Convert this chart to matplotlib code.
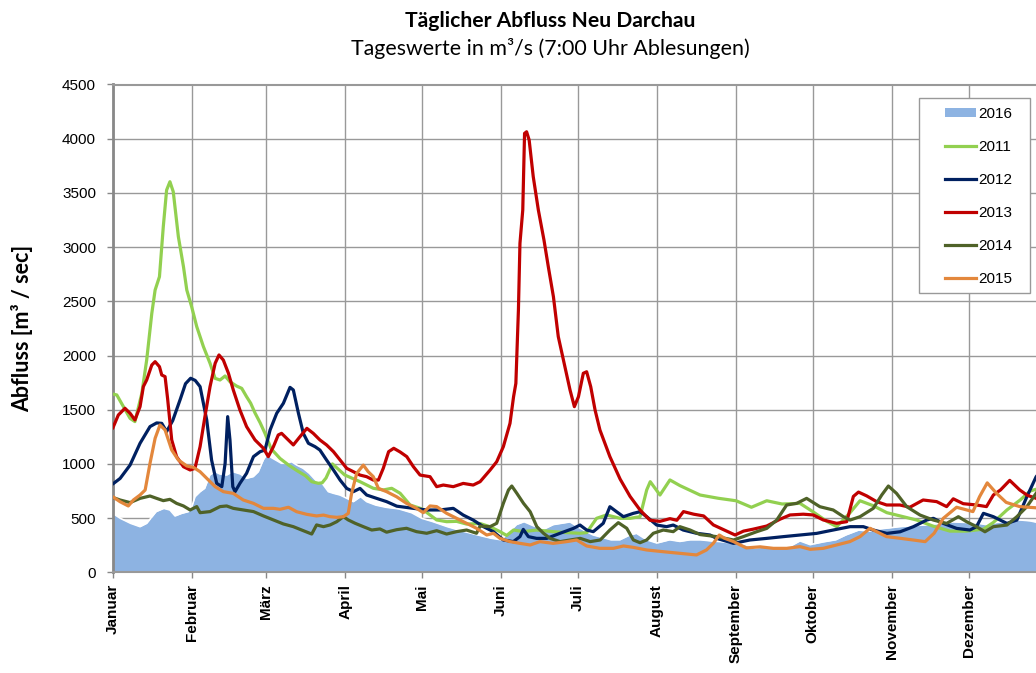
import matplotlib
matplotlib.use("Agg")
import matplotlib.pyplot as plt
from matplotlib.patches import Patch, Rectangle
from matplotlib.lines import Line2D

plt.rcParams['font.family'] = ['Liberation Sans', 'DejaVu Sans']

# ---------------- data (day of year, 0 = 1 Jan; values in m3/s) ----------------
month_labels = ["Januar", "Februar", "März", "April", "Mai", "Juni", "Juli",
                "August", "September", "Oktober", "November", "Dezember"]
month_starts = [0, 31, 60, 91, 121, 152, 182, 213, 244, 274, 305, 335]

days_2016 = [0, 3, 7, 10.7, 13.3, 17, 20, 22.4, 24.4, 27, 29.6, 31, 32.2, 34.2, 36, 38, 40, 42,
             44.6, 47, 50, 52.4, 55, 57, 59, 60.5, 62, 63.5, 66, 68, 70, 72, 74.6, 77, 80, 82,
             84.4, 86.4, 89, 91.6, 94.2, 97, 99.4, 103, 107, 112, 117, 121, 125, 131, 137, 143,
             148, 152, 155.5, 158, 161, 164.6, 168.5, 172.4, 176.4, 179, 182, 185.5, 188, 192,
             195, 198.5, 202, 205, 209, 213, 218, 222, 226, 230, 234, 238, 243, 247, 251, 256,
             259, 264, 269, 273, 278, 283, 287, 292, 296, 300, 304, 308, 313, 318, 324, 329, 334,
             338, 342, 346, 350, 355, 359, 362]
q_2016 = [544, 498, 452, 421, 452, 560, 590, 575, 520, 544, 560, 606, 698, 744, 775, 898, 929, 907,
          898, 929, 907, 867, 883, 929, 1040, 1090, 1060, 1040, 1006, 1006, 1021, 990, 959, 913, 836, 821,
          744, 729, 713, 683, 652, 698, 652, 620, 600, 585, 550, 498, 470, 421, 380, 344,
          315, 300, 380, 440, 467, 430, 395, 440, 455, 465, 420, 375, 345, 320,
          300, 300, 340, 360, 300, 270, 300, 285, 300, 300, 290, 283, 268, 260, 225, 237,
          237, 225, 290, 255, 280, 300, 345, 390, 380, 400, 410, 421, 430, 437, 452, 465, 460,
          455, 440, 460, 470, 483, 475, 460]

days_2011 = [0, 1.6, 4.2, 6.8, 8.7, 11.4, 13.3, 15.3, 16.6, 18.3, 19.8, 21.1, 22.4, 23.7, 25.7,
             27.7, 29, 30.9, 32.9, 35.5, 38.1, 40.1, 42, 44, 45.9, 48.5, 50.5, 52.4, 54, 55.7,
             57.7, 59.6, 62, 65.5, 68.8, 72, 75.5, 77.9, 80.5, 82, 83.5, 86, 90.8, 96.8, 102, 106,
             109.2, 112.5, 116.4, 121, 124.2, 126.8, 130.7, 134.6, 138.5, 143.8, 147.7, 151.6,
             154.2, 156.9, 160.7, 165.9, 172.4, 177.7, 182.9, 185.5, 189.4, 193.3, 198.6, 202.5,
             206.4, 209, 210.4, 214.2, 218.1, 222, 229.9, 237, 244, 250, 256, 262, 269, 274,
             279.5, 283.4, 288.6, 292.5, 297.7, 303, 308.2, 314.7, 321.2, 327.7, 334.2, 340.8,
             344.7, 350, 355.2, 359.1, 362]
q_2011 = [1645, 1636, 1528, 1420, 1390, 1651, 1958, 2388, 2604, 2727, 3188, 3526, 3603, 3511, 3096,
          2819, 2604, 2450, 2266, 2082, 1928, 1789, 1774, 1811, 1758, 1718, 1697, 1620, 1560, 1470,
          1380, 1282, 1140, 1050, 990, 940, 890, 836, 821, 826, 870, 1000, 898, 836, 775, 760,
          775, 729, 621, 585, 529, 483, 467, 470, 445, 450, 420, 375,
          340, 390, 375, 390, 375, 366, 360, 366, 498, 529, 498, 498,
          513, 759, 836, 713, 852, 800, 713, 683, 660, 600, 660, 630, 636, 560,
          470, 421, 550, 660, 614, 550, 520, 482, 425, 380, 380, 398,
          460, 575, 667, 750, 770]

days_2012 = [0, 2.9, 6.8, 10.7, 14.6, 17.2, 19.2, 21.1, 23.5, 26.5, 28.5, 30.5, 32.3, 34.2, 36.8,
             38.7, 40.7, 42.7, 44, 45, 45.9, 47, 47.9, 49.8, 52.4, 55.1, 57.7, 59.6, 61.6, 64.2,
             66.8, 69.4, 70.7, 72.7, 74.6, 76.6, 79.2, 81.1, 83.7, 86.4, 89, 91.6, 94.2, 96.8,
             99.4, 103.3, 107.2, 111.2, 117.7, 122.9, 128.1, 133.3, 137.2, 141.1, 145.1, 149,
             152.9, 156.8, 159.4, 160.7, 162.7, 165.9, 169.9, 175.1, 180.3, 182.9, 185.5, 188.1,
             192, 194.6, 197.2, 199.9, 203.8, 206.4, 209, 212.9, 216.8, 219.4, 223.3, 228.5,
             233.8, 236.4, 243, 249.4, 256, 262.5, 269, 275.5, 282, 288.6, 293.8, 297.7, 303,
             308.2, 313.4, 318.6, 321.2, 325.1, 330.3, 335.5, 338.1, 340.8, 344.7, 350, 353.9,
             357.8, 361.4, 363]
q_2012 = [814, 866, 989, 1190, 1344, 1378, 1374, 1298, 1400, 1600, 1740, 1790, 1770, 1713, 1405,
          1036, 821, 790, 1005, 1436, 1221, 790, 744, 821, 913, 1067, 1113, 1128, 1313, 1467,
          1559, 1706, 1682, 1467, 1282, 1190, 1159, 1128, 1036, 944, 851, 774, 744, 774,
          713, 682, 652, 610, 590, 575, 575, 590, 528, 482, 421, 375,
          298, 283, 329, 396, 329, 313, 313, 360, 405, 436, 390, 375,
          452, 605, 559, 513, 544, 559, 513, 436, 421, 436, 390, 360,
          344, 313, 267, 298, 313, 329, 344, 359, 390, 421, 421, 390, 359,
          374, 421, 482, 498, 451, 405, 390, 421, 544, 513, 451, 482,
          697, 880, 930]

days_2013 = [0, 2.2, 4.8, 6.8, 8.7, 10.7, 12, 13.3, 15.3, 16.6, 18.3, 19.2, 20.5, 21.5, 23.1,
             25, 27.7, 30.3, 32.2, 34.2, 36.1, 38.1, 40.1, 41.6, 43.3, 45.3, 47.2, 49.8, 52.4,
             55.7, 59, 60.9, 62.9, 64.8, 66.1, 68.1, 70.7, 73.3, 76, 78.5, 81.1, 83.7, 86.4, 89,
             91.6, 94.2, 96.8, 99.4, 102, 104, 105.9, 108, 110, 112.5, 115.1, 117.7, 120.3,
             124.2, 126.8, 129.4, 133.3, 137.2, 141.1, 143.8, 147.7, 150.3, 152.9, 155.5, 156.9,
             157.8, 158.8, 159.4, 160.5, 161.2, 162, 163, 164.6, 166.6, 168.8, 170.5, 172.5,
             174.4, 177, 179, 180.7, 182.3, 184.2, 185.5, 187.1, 188.8, 190.7, 194.6, 198.6,
             202.5, 206.4, 210.3, 214.2, 218.1, 220.8, 223.4, 227.4, 231.3, 235.1, 240.3, 243.6,
             246.9, 250.7, 256, 261.2, 265.1, 270.3, 274.2, 278.1, 283.3, 287.3, 289.9, 291.9,
             295.1, 299, 302.9, 308.1, 312, 317.2, 322.5, 326.4, 329, 332.9, 338.1, 342, 344.7,
             347.5, 351.1, 355, 358, 361.4, 363]
q_2013 = [1328, 1451, 1513, 1467, 1405, 1528, 1713, 1774, 1912, 1943, 1897, 1820, 1805, 1600, 1221,
          1067, 974, 944, 959, 1159, 1436, 1713, 1928, 2005, 1958, 1836, 1682, 1497, 1344,
          1221, 1144, 1067, 1159, 1267, 1282, 1236, 1175, 1251, 1328, 1282, 1221, 1175, 1113, 1036,
          959, 928, 897, 882, 851, 851, 959, 1113, 1144, 1110, 1067, 974, 897,
          882, 790, 805, 790, 820, 805, 836, 943, 1020, 1159, 1374, 1620,
          1743, 2420, 3035, 3342, 4049, 4064, 3988, 3650, 3342, 3065, 2819, 2542,
          2174, 1897, 1682, 1528, 1620, 1836, 1850, 1712, 1497, 1313, 1067, 860,
          700, 575, 480, 470, 495, 480, 560, 536, 520, 437, 380, 344,
          380, 398, 427, 490, 529, 536, 529, 483, 452, 467, 700, 740,
          705, 652, 621, 621, 600, 667, 652, 606, 678, 633, 621, 606, 713,
          760, 848, 760, 710, 683, 660]

days_2014 = [0, 2.9, 6.8, 10.7, 14.6, 17.2, 19.8, 22.4, 25, 27.7, 30.3, 32.9, 34.2, 38.1, 42, 44.6,
             47.2, 51.1, 55.1, 59, 62.9, 66.8, 70.7, 74.6, 77.9, 79.8, 82.5, 85.1, 87.7, 90.3,
             92.2, 94.9, 98.1, 101.4, 104.6, 107.2, 111.1, 115, 118.9, 122.9, 126.8, 130.7, 134.6,
             138.5, 142.4, 143.8, 147.7, 150.3, 152.9, 154.9, 156.2, 158.2, 160.8, 163.4, 166,
             168.6, 171.2, 175.1, 179, 183, 186.9, 190.8, 194.6, 197.9, 201.2, 203.8, 206.4, 209,
             211.6, 215.5, 219.4, 222, 226, 229.9, 236.4, 243, 246.8, 252, 256, 259.9, 263.8,
             267.7, 271.6, 276.8, 282, 286, 288.6, 292.5, 297.7, 301, 303.6, 306.8, 310.8, 316,
             321.2, 326.4, 331, 334.2, 338.1, 341.4, 344.7, 350, 353.9, 357.8, 361.4, 363]
q_2014 = [691, 667, 643, 682, 704, 682, 661, 673, 636, 612, 575, 606, 550, 560, 606, 612,
          590, 575, 560, 520, 483, 446, 421, 384, 353, 437, 421, 437, 467, 513,
          483, 452, 421, 390, 400, 370, 393, 406, 375, 360, 384, 353, 375,
          390, 360, 427, 421, 452, 636, 759, 796, 728, 636, 559, 421,
          360, 313, 283, 298, 313, 283, 298, 390, 458, 406, 298, 273, 298,
          360, 390, 375, 421, 390, 348, 329, 298, 329, 374, 405, 482, 621,
          636, 682, 605, 575, 513, 482, 513, 590, 713, 796, 728, 605, 528,
          482, 451, 513, 467, 421, 374, 421, 436, 513, 605, 728, 780]

days_2015 = [0, 2.9, 6.1, 8.1, 10.7, 12.7, 14.6, 16.6, 18.5, 20.5, 23.1, 25.7, 29, 31.6, 34.2, 36.8,
             40.1, 43.3, 47.2, 51.1, 55.1, 59, 62.9, 65.5, 68.8, 72, 75.9, 79.8, 82.5, 85.1, 87.7,
             90.3, 92.2, 93.5, 95.5, 98.1, 100, 102, 104, 107.2, 111.1, 115, 118.9, 121.6, 124.2,
             126.8, 130.7, 134.6, 138.5, 142.4, 146.4, 149, 151.6, 155.5, 159.4, 163.4, 167.2,
             172.4, 177.7, 181.6, 185.5, 190.7, 196, 199.9, 203.8, 209, 215.5, 222, 228.5, 232.4,
             235.1, 237.4, 239.5, 243, 248, 253.4, 258.6, 263.8, 269, 273, 278.1, 283.3, 288.5,
             292.5, 296.4, 299, 302.9, 308.1, 313.3, 318, 321.5, 325.1, 330.3, 336.7, 339.3,
             342.3, 345.9, 349.7, 355, 361.4, 363]
q_2015 = [697, 651, 612, 667, 713, 759, 1005, 1236, 1359, 1313, 1128, 1036, 981, 968, 928, 867,
          790, 744, 728, 667, 636, 590, 590, 581, 600, 559, 535, 520, 528, 513, 507,
          513, 544, 728, 913, 989, 928, 882, 774, 744, 697, 636, 590, 550, 612,
          606, 544, 498, 452, 406, 344, 360, 313, 283, 267, 252, 283,
          267, 283, 298, 243, 221, 221, 243, 230, 206, 190, 175, 160, 206,
          268, 344, 314, 283, 225, 235, 221, 221, 237, 212, 221, 252, 283,
          329, 406, 375, 329, 314, 298, 283, 360, 498, 600, 560, 698,
          825, 729, 645, 606, 595, 590]

series = [
    ("2011", days_2011, q_2011, "#92D050"),
    ("2012", days_2012, q_2012, "#002060"),
    ("2013", days_2013, q_2013, "#C00000"),
    ("2014", days_2014, q_2014, "#4F6228"),
    ("2015", days_2015, q_2015, "#E3873C"),
]
color_2016 = "#8DB3E2"

# ---------------- figure ----------------
W, H = 1036, 673
fig = plt.figure(figsize=(W / 100, H / 100), dpi=100)
x0, x1 = 112.7, 1047.8
y0, y1 = 84.5, 572.3
ax = fig.add_axes([x0 / W, 1 - y1 / H, (x1 - x0) / W, (y1 - y0) / H])

ax.fill_between(days_2016, 0, q_2016, color=color_2016, linewidth=0, zorder=2)
ax.plot(days_2016, q_2016, color="white", lw=1.2, zorder=2.5)
for name, d, q, c in series:
    ax.plot(d, q, color=c, lw=2.3, solid_joinstyle="round", solid_capstyle="round", zorder=3)

ax.set_xlim(0, 366)
ax.set_ylim(0, 4500)
ax.set_yticks(range(0, 4501, 500))
ax.set_xticks(month_starts)
ax.set_xticklabels(month_labels, rotation=90, fontweight="bold", fontsize=11,
                   va="top", ha="center")
ax.tick_params(axis="y", labelsize=11, length=4, width=1, color="#888888", pad=8)
ax.tick_params(axis="x", length=4.5, width=1, color="#888888", pad=4)

ax.set_axisbelow(True)
ax.grid(True, color="#999999", lw=1.0, zorder=0)
for s in ["top", "right"]:
    ax.spines[s].set_color("#999999")
    ax.spines[s].set_linewidth(1.5)
ax.spines["left"].set_color("#888888")
ax.spines["left"].set_linewidth(2)
ax.spines["bottom"].set_color("#999999")
ax.spines["bottom"].set_linewidth(1.5)

fig.text(22 / W, 1 - 328 / H, "Abfluss [m³ / sec]", rotation=90, ha="center", va="center",
         fontsize=15.5, fontweight="bold", family=["Lato", "DejaVu Sans"])

fig.text(550 / W, 1 - 26.7 / H, "Täglicher Abfluss Neu Darchau", ha="center", va="baseline",
         fontsize=15.2, fontweight="bold", family=["Lato", "DejaVu Sans"])
fig.text(550 / W, 1 - 55.3 / H, "Tageswerte in m³/s (7:00 Uhr Ablesungen)", ha="center",
         va="baseline", fontsize=15.4, family=["Lato", "DejaVu Sans"])

# legend
handles = [Patch(facecolor=color_2016, edgecolor="none", label="2016")]
for name, d, q, c in series:
    handles.append(Line2D([], [], color=c, lw=2.3, label=name))
leg = fig.legend(handles=handles, loc="upper left", bbox_to_anchor=(937 / W, 1 - 99 / H),
                 frameon=False, fontsize=11, borderpad=0, labelspacing=1.25,
                 handlelength=2.05, handleheight=0.55, handletextpad=0.15)
fig.patches.append(Rectangle((919 / W, 1 - 292.7 / H), 111 / W, 194.4 / H,
                             transform=fig.transFigure, facecolor="white",
                             edgecolor="#999999", lw=1.0, zorder=1))
leg.set_zorder(5)

fig.savefig("out.png", dpi=100)
